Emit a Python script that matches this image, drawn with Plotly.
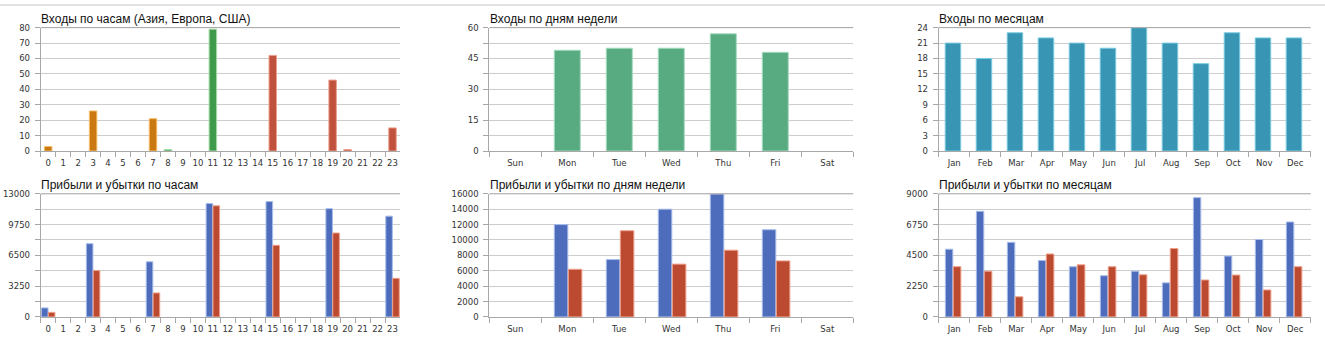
import plotly.graph_objects as go

# ---------------- data ----------------
hours = [str(h) for h in range(24)]
hour_region = (["Asia"] * 8) + (["Europe"] * 7) + (["USA"] * 9)
hour_entries = [3, 0, 0, 26, 0, 0, 0, 21, 1, 0, 0, 79, 0, 0, 0, 62, 0, 0, 0, 46, 1, 0, 0, 15]

weekdays = ["Sun", "Mon", "Tue", "Wed", "Thu", "Fri", "Sat"]
weekday_entries = [0, 49, 50, 50, 57, 48, 0]

months = ["Jan", "Feb", "Mar", "Apr", "May", "Jun", "Jul", "Aug", "Sep", "Oct", "Nov", "Dec"]
month_entries = [21, 18, 23, 22, 21, 20, 24, 21, 17, 23, 22, 22]

hour_profit = [950, 0, 0, 7730, 0, 0, 0, 5820, 0, 0, 0, 11970, 0, 0, 0, 12180, 0, 0, 0, 11430, 0, 0, 0, 10640]
hour_loss = [480, 0, 0, 4890, 0, 0, 0, 2530, 0, 0, 0, 11730, 0, 0, 0, 7560, 0, 0, 0, 8860, 0, 0, 0, 4070]

weekday_profit = [0, 12000, 7450, 14000, 15960, 11330, 0]
weekday_loss = [0, 6190, 11200, 6860, 8670, 7280, 0]

month_profit = [4950, 7720, 5450, 4120, 3670, 3010, 3340, 2490, 8720, 4450, 5660, 6940]
month_loss = [3670, 3340, 1470, 4600, 3810, 3670, 3080, 5000, 2700, 3060, 1970, 3670]

titles = [
    "Входы по часам (Азия, Европа, США)",
    "Входы по дням недели",
    "Входы по месяцам",
    "Прибыли и убытки по часам",
    "Прибыли и убытки по дням недели",
    "Прибыли и убытки по месяцам",
]

# ---------------- styles ----------------
W, H = 1325, 353
region_fill = {"Asia": "#c97812", "Europe": "#3f9a4c", "USA": "#c0513c"}
region_line = {"Asia": "#f4bd6a", "Europe": "#a6dca6", "USA": "#eca08e"}
profit_fill, profit_line = "#4d6cbc", "#a8bdea"
loss_fill, loss_line = "#bb4a30", "#eea08a"
week_fill, week_line = "#58aa80", "#a6dcc0"
month_fill, month_line = "#3896b4", "#7ccbe0"

TICK_FONT = dict(family="DejaVu Sans, Verdana, sans-serif", size=8.5, color="#333333")
TITLE_FONT = dict(family="Liberation Sans, Arial, sans-serif", size=12, color="#111111")
AXIS_COL = "#a8a8a8"
GRID_COL = "#cdcdcd"

# pixel geometry -> paper domains
xdoms_px = [(40.7, 400.0), (489.3, 853.3), (938.7, 1310.7)]
ydoms_px = [(23.3, 150.3), (194.3, 321.0)]
title_y_px = [14, 185]

def xdom(i):
    a, b = xdoms_px[i]
    return [a / W, b / W]

def ydom(r):
    t, b = ydoms_px[r]
    return [1 - b / H, 1 - t / H]

def edge(vals):
    # no outline on empty bars
    return [1 if v else 0 for v in vals]

def ax(i):
    return "" if i == 1 else str(i)

fig = go.Figure()

# Panel 1: entries by hour
fig.add_trace(go.Bar(
    x=hours, y=hour_entries, xaxis="x", yaxis="y", width=0.5,
    marker=dict(color=[region_fill[r] for r in hour_region],
                line=dict(color=[region_line[r] for r in hour_region], width=edge(hour_entries))),
    showlegend=False,
))
# Panel 2: entries by weekday
fig.add_trace(go.Bar(
    x=weekdays, y=weekday_entries, xaxis="x2", yaxis="y2", width=0.5,
    marker=dict(color=week_fill, line=dict(color=week_line, width=edge(weekday_entries))),
    showlegend=False,
))
# Panel 3: entries by month
fig.add_trace(go.Bar(
    x=months, y=month_entries, xaxis="x3", yaxis="y3", width=0.5, offset=-0.29,
    marker=dict(color=month_fill, line=dict(color=month_line, width=edge(month_entries))),
    showlegend=False,
))

def pl(x, y, axn, width, offset, fill, line):
    fig.add_trace(go.Bar(x=x, y=y, xaxis="x" + axn, yaxis="y" + axn, width=width, offset=offset,
                         marker=dict(color=fill, line=dict(color=line, width=edge(y))),
                         showlegend=False))

# Panel 4-6: profit / loss
pl(hours, hour_profit, "4", 0.44, -0.45, profit_fill, profit_line)
pl(hours, hour_loss, "4", 0.44, 0.01, loss_fill, loss_line)
pl(weekdays, weekday_profit, "5", 0.26, -0.25, profit_fill, profit_line)
pl(weekdays, weekday_loss, "5", 0.26, 0.02, loss_fill, loss_line)
pl(months, month_profit, "6", 0.24, -0.285, profit_fill, profit_line)
pl(months, month_loss, "6", 0.245, -0.03, loss_fill, loss_line)

# y axis specs: (max, grid step, label step)
yspecs = [(80, 10, 10), (60, 7.5, 15), (24, 3, 3), (13000, 1625, 3250), (16000, 2000, 2000), (9000, 1125, 2250)]

layout = {}
for k in range(6):
    i = k + 1
    col, row = k % 3, k // 3
    ymax, gstep, lstep = yspecs[k]
    vals = [gstep * j for j in range(9)]
    texts = [("%g" % v) if abs((v / lstep) - round(v / lstep)) < 1e-9 else "" for v in vals]
    layout["xaxis" + ax(i)] = dict(
        domain=xdom(col), anchor="y" + ax(i), type="category",
        showline=True, linecolor=AXIS_COL, linewidth=1,
        ticks="outside", ticklen=5, tickcolor=AXIS_COL, tickson="boundaries",
        ticklabelstandoff=4,
        showgrid=False, zeroline=False, tickfont=TICK_FONT, tickangle=0,
        fixedrange=True,
    )
    layout["yaxis" + ax(i)] = dict(
        domain=ydom(row), anchor="x" + ax(i), range=[0, ymax],
        tickmode="array", tickvals=vals, ticktext=texts,
        showline=True, linecolor=AXIS_COL, linewidth=1,
        ticks="outside", ticklen=5, tickcolor=AXIS_COL,
        ticklabelstandoff=3,
        showgrid=True, gridcolor=GRID_COL, gridwidth=1, zeroline=False,
        tickfont=TICK_FONT, fixedrange=True,
    )

annotations = []
shapes = []
for k in range(6):
    col, row = k % 3, k // 3
    annotations.append(dict(
        text=titles[k], xref="paper", yref="paper",
        x=xdom(col)[0] - 1.5 / W, y=1 - title_y_px[row] / H,
        xanchor="left", yanchor="middle", showarrow=False, font=TITLE_FONT,
    ))
    i = k + 1
    shapes.append(dict(type="line", xref="x" + ax(i) + " domain", yref="y" + ax(i) + " domain",
                       x0=0, x1=1, y0=1, y1=1, line=dict(color="#a0a0a0", width=1)))
# faint page border at the top
shapes.append(dict(type="line", xref="paper", yref="paper", x0=0, x1=1, y0=1, y1=1,
                   line=dict(color="#e2e2e2", width=2)))

fig.update_layout(
    **layout,
    width=W, height=H, margin=dict(l=0, r=0, t=0, b=0),
    paper_bgcolor="white", plot_bgcolor="white",
    barmode="overlay", annotations=annotations, shapes=shapes,
    showlegend=False,
)

fig.write_html("out.html", config={"displayModeBar": False})
